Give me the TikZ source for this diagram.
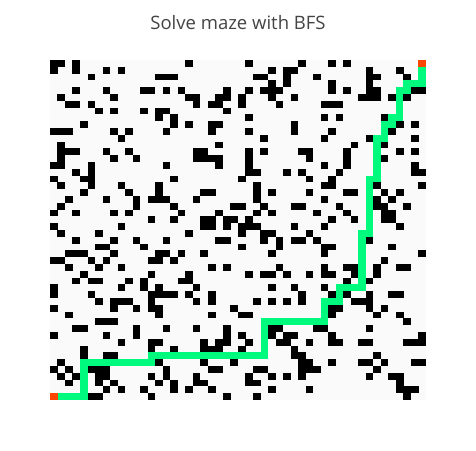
\documentclass[tikz,border=0pt]{standalone}
\usepackage{fontspec}
\setmainfont{Open Sans}

\definecolor{mazefloor}{HTML}{FAFAFA}
\definecolor{mazepath}{HTML}{00FA7D}
\definecolor{mazeend}{HTML}{FF4500}
\definecolor{titlegray}{HTML}{444444}

\begin{document}
\begin{tikzpicture}[
    x=1pt, y=1pt,
    wall/.style={fill=black},
    trail/.style={fill=mazepath},
    endcell/.style={fill=mazeend},
    plottitle/.style={font=\fontsize{18.5}{22}\selectfont, text=titlegray}
]

\useasboundingbox (0,0) rectangle (476,450);
\fill[white] (0,0) rectangle (476,450);

% Title
\node[plottitle] (title) at (238,427) {Solve maze with BFS};

% Maze grid, 50 x 50 cells, row 0 at the top
\begin{scope}[shift={(50pt,390pt)}, x=7.52pt, y=-6.8pt]
\fill[mazefloor] (0,0) rectangle (50,50);

% Walls, row / columns
\foreach \r/\cols in {
    0/{0,1,3,18,26,33,37,39},
    1/{0,3,7,9,29,31,32,42,46},
    2/{5,14,15,16,27,28,31,35,42,43,47},
    3/{29,31,37,42},
    4/{3,7,12,13,15,17,23,26,28,29,30,37,39,42,43,48,49},
    5/{1,8,18,19,22,23,25,29,32,41,42,43,45,47},
    6/{2,3,5,19,21,22,25,30,36,37,38},
    7/{6,8,12,14,15,23},
    8/{14,16,26,36,38,44},
    9/{4,16,18,21,22,32,46,48},
    10/{0,1,2,8,10,15,21,26,32,37,45},
    11/{9,28,36,42,48},
    12/{1,22,40,44},
    13/{1,2,3,7,10,19,20,26,28,33,34,39,46,48},
    14/{1,8,11,19,20,21,22,26,34,39,44},
    15/{0,1,5,15,22,26,36,39,48},
    16/{3,5,26,27,31,33,38,48,49},
    17/{0,4,5,16,25,34,37},
    18/{1,5,9,14,27,36,37,43,49},
    19/{4,10,14,20,21,27,29,34,39,40,44,46},
    20/{2,7,11,13,14,15,19,27,36,43,45},
    21/{1,11,16,24,25,28,32,33,38,43,44,47},
    22/{0,3,8,10,17,22,27,29,35,39,44,45},
    23/{13,16,20,21,23,24,26,37,40,44,45},
    24/{0,9,20,21,23,25,26,27,32,36,46},
    25/{1,6,18,25,28,29,34},
    26/{3,8,11,15,22,23,28,30,32,33,35,42},
    27/{6,7,12,25,30,36,37,45},
    28/{2,3,4,8,14,15,17,20,29,36,49},
    29/{0,1,5,7,13,14,16,44},
    30/{2,6,9,21,23,30,36,39,40,43,46,47},
    31/{4,13,18,26,28,29,31,34,36,37,40,43},
    32/{3,5,6,10,12,17,18,39,42},
    33/{0,9,12,14,19,29,32,36},
    34/{0,5,13,14,15,16,18,21,33,37,39,42,45,46},
    35/{6,8,9,10,13,19,21,27,29,31,33,40,41,42},
    36/{0,8,11,13,14,24,37,38,42,44},
    37/{2,14,21,25,26,37,43,46},
    38/{6,7,8,47},
    39/{3,4,11,15,19,23,29,30,35,36,42},
    40/{0,7,11,23,25,29,31,32,37,49},
    41/{9,13,14,20,22,23,26,30,31,34,37,38,41,42,47,48,49},
    42/{4,13,16,20,21,22,25,32},
    43/{4,7,8,32,33,43},
    44/{1,14,20,24,33,34,37,41,42,44,48,49},
    45/{0,2,5,6,7,15,21,22,27,28,33,34,35,43},
    46/{1,3,6,7,13,15,19,26,29,31,33,42,45,46},
    47/{2,6,8,14,16,19,20,26,27,46},
    48/{7,9,12,16,18,21,29,34,46,47,48},
    49/{5,6,13,23,27,47}}
{
    \foreach \c in \cols {
        \fill[wall] (\c-0.01,\r-0.01) rectangle ++(1.02,1.02);
    }
}

% BFS path, runs of cells: from column/row to column/row
\foreach \ca/\ra/\cb/\rb in {
    1/49/4/49, 4/44/4/49, 4/44/13/44, 13/43/13/44, 13/43/28/43,
    28/38/28/43, 28/38/36/38, 36/35/36/38, 36/35/38/35, 38/33/38/35,
    38/33/41/33, 41/25/41/33, 41/25/42/25, 42/17/42/25, 42/17/43/17,
    43/11/43/17, 43/11/44/11, 44/9/44/11, 44/9/45/9, 45/8/45/9,
    45/8/46/8, 46/4/46/8, 46/4/47/4, 47/3/47/4, 47/3/49/3, 49/1/49/3}
{
    \fill[trail] (\ca,\ra) rectangle (\cb+1,\rb+1);
}

% Start and goal
\fill[endcell] (0,49) rectangle (1,50);
\fill[endcell] (49,0) rectangle (50,1);
\end{scope}

\end{tikzpicture}
\end{document}
